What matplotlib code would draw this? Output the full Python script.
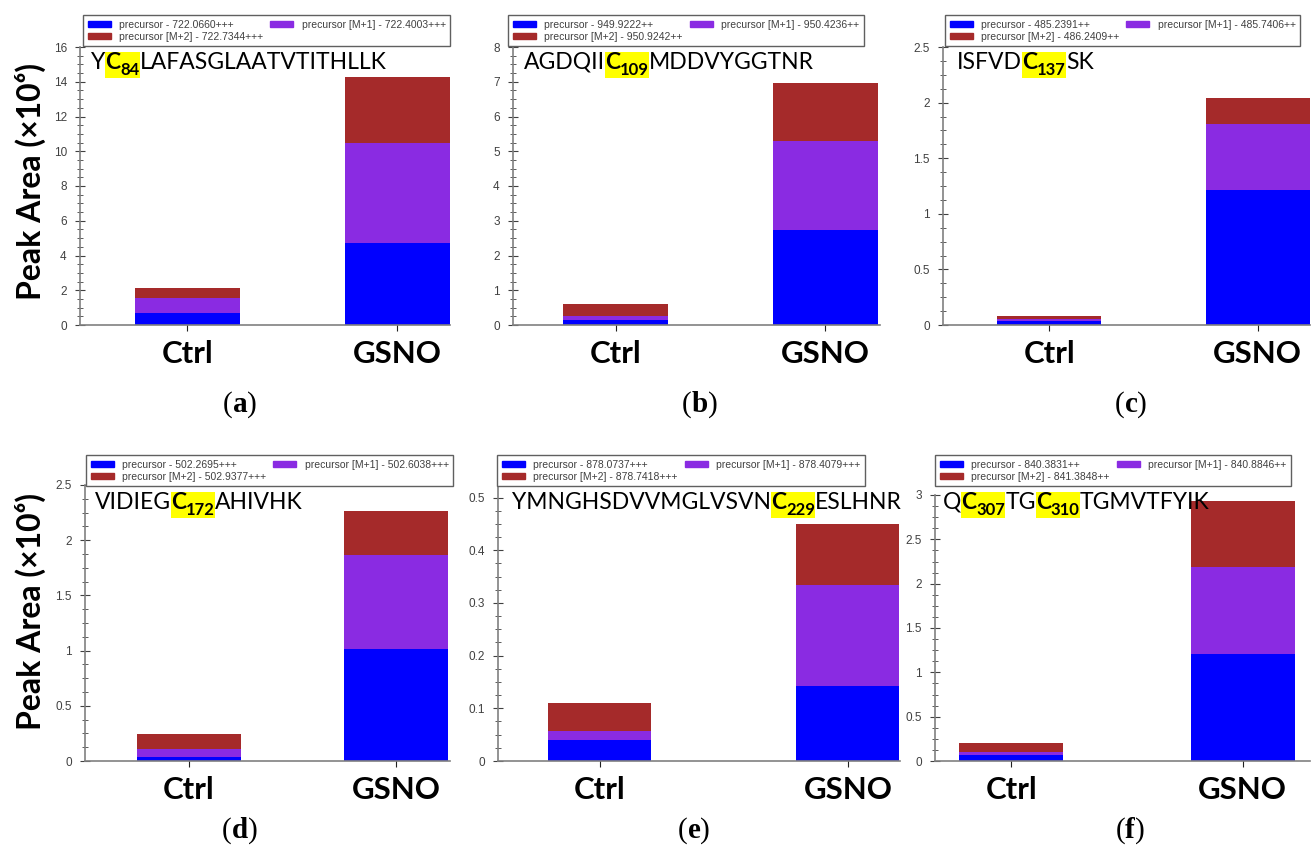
import matplotlib
matplotlib.use("Agg")
import matplotlib.pyplot as plt
from matplotlib.patches import Patch, Rectangle
from matplotlib.ticker import AutoMinorLocator, FuncFormatter, MultipleLocator

W, H = 1315, 852

categories = ["Ctrl", "GSNO"]

# stacked segment heights (x10^6): precursor, [M+1], [M+2]
prec_a = [0.70, 4.72]
m1_a = [0.87, 5.78]
m2_a = [0.58, 3.75]

prec_b = [0.135, 2.73]
m1_b = [0.135, 2.57]
m2_b = [0.33, 1.66]

prec_c = [0.040, 1.21]
m1_c = [0.014, 0.60]
m2_c = [0.023, 0.23]

prec_d = [0.040, 1.01]
m1_d = [0.066, 0.86]
m2_d = [0.139, 0.39]

prec_e = [0.040, 0.142]
m1_e = [0.016, 0.192]
m2_e = [0.054, 0.115]

prec_f = [0.068, 1.21]
m1_f = [0.032, 0.98]
m2_f = [0.100, 0.74]

legend_a = ["precursor - 722.0660+++", "precursor [M+1] - 722.4003+++", "precursor [M+2] - 722.7344+++"]
legend_b = ["precursor - 949.9222++", "precursor [M+1] - 950.4236++", "precursor [M+2] - 950.9242++"]
legend_c = ["precursor - 485.2391++", "precursor [M+1] - 485.7406++", "precursor [M+2] - 486.2409++"]
legend_d = ["precursor - 502.2695+++", "precursor [M+1] - 502.6038+++", "precursor [M+2] - 502.9377+++"]
legend_e = ["precursor - 878.0737+++", "precursor [M+1] - 878.4079+++", "precursor [M+2] - 878.7418+++"]
legend_f = ["precursor - 840.3831++", "precursor [M+1] - 840.8846++", "precursor [M+2] - 841.3848++"]

# peptide as (plain, cys, site) pieces
pep_a = [("Y", "C", "84"), ("LAFASGLAATVTITHLLK", None, None)]
pep_b = [("AGDQII", "C", "109"), ("MDDVYGGTNR", None, None)]
pep_c = [("ISFVD", "C", "137"), ("SK", None, None)]
pep_d = [("VIDIEG", "C", "172"), ("AHIVHK", None, None)]
pep_e = [("YMNGHSDVVMGLVSVN", "C", "229"), ("ESLHNR", None, None)]
pep_f = [("Q", "C", "307"), ("TG", "C", "310"), ("TGMVTFYIK", None, None)]

colors = ["#0000FF", "#8A2BE2", "#A52A2A"]
sans = ["Lato", "DejaVu Sans"]

fig = plt.figure(figsize=(W / 100, H / 100), dpi=100)
renderer = fig.canvas.get_renderer()


def px_axes(l, r, t, b):
    return fig.add_axes([l / W, 1 - b / H, (r - l) / W, (b - t) / H])


def runs_text(x, y, runs, center=False):
    # runs: (text, size, weight, family, dy, highlight)
    items = []
    cx = x
    for s, size, weight, fam, dy, hl in runs:
        t = fig.text(cx / W, 1 - (y + dy) / H, s, fontsize=size, fontweight=weight,
                     family=fam, va="baseline", ha="left", zorder=5)
        bb = t.get_window_extent(renderer)
        items.append((t, bb, dy, hl))
        cx += bb.width
    shift = -(cx - x) / 2 if center else 0
    for t, bb, dy, hl in items:
        px, py = t.get_position()
        t.set_position((px + shift / W, py))
    # highlight boxes
    i = 0
    while i < len(items):
        if items[i][3]:
            j = i
            while j + 1 < len(items) and items[j + 1][3]:
                j += 1
            x0 = items[i][1].x0 + shift
            x1 = items[j][1].x1 + shift
            y0 = min(it[1].y0 for it in items[i:j + 1])
            y1 = max(it[1].y1 for it in items[i:j + 1])
            fig.patches.append(Rectangle((x0 / W, y0 / H), (x1 - x0) / W, (y1 - y0) / H,
                                         transform=fig.transFigure, facecolor="#FFFF00",
                                         edgecolor="none", zorder=4))
            i = j + 1
        else:
            i += 1


def panel(box, xl, bw, ymax, ystep, prec, m1, m2, labels, leg_box, pep, pep_xy, tag, tag_xy):
    ax = px_axes(*box)
    x = range(len(categories))
    b1 = [p + q for p, q in zip(prec, m1)]
    ax.bar(x, prec, bw, color=colors[0], zorder=2)
    ax.bar(x, m1, bw, bottom=prec, color=colors[1], zorder=2)
    ax.bar(x, m2, bw, bottom=b1, color=colors[2], zorder=2)
    ax.set_xlim(*xl)
    ax.set_ylim(0, ymax)
    ax.set_xticks(list(x))
    ax.set_xticklabels(categories, fontsize=22.5, fontweight="bold", family=sans)
    ax.yaxis.set_major_locator(MultipleLocator(ystep))
    ax.yaxis.set_minor_locator(AutoMinorLocator(4))
    ax.yaxis.set_major_formatter(FuncFormatter(lambda v, p: "%g" % round(v, 3)))
    for s in ["top", "right"]:
        ax.spines[s].set_visible(False)
    for s in ["left", "bottom"]:
        ax.spines[s].set_color("#808080")
        ax.spines[s].set_linewidth(1.2)
    ax.tick_params(axis="y", which="major", direction="inout", length=7, color="#404040",
                   labelsize=8.5, labelcolor="#404040", pad=6)
    ax.tick_params(axis="y", which="minor", direction="inout", length=4, color="#404040")
    ax.tick_params(axis="x", direction="inout", length=8, color="#202020", pad=7)
    for lab in ax.get_yticklabels():
        lab.set_family("Liberation Sans")

    handles = [Patch(color=colors[0]), Patch(color=colors[2]), Patch(color=colors[1])]
    leg_labels = [labels[0], labels[2], labels[1]]
    lx0, ly1 = leg_box
    leg = ax.legend(handles, leg_labels, ncol=2, loc="upper left",
                    bbox_to_anchor=(lx0 / W, 1 - ly1 / H),
                    bbox_transform=fig.transFigure, borderaxespad=0,
                    prop={"family": "Liberation Sans", "size": 7.5},
                    fancybox=False, edgecolor="#606060", framealpha=1,
                    borderpad=0.45, labelspacing=0.2, handlelength=2.2,
                    handleheight=0.6, handletextpad=0.8, columnspacing=0.7)
    leg.get_frame().set_linewidth(1.0)
    for t in leg.get_texts():
        t.set_color("#404040")

    runs = []
    for plain, cys, site in pep:
        runs.append((plain, 16.5, "normal", sans, 0, False))
        if cys:
            runs.append((cys, 16.5, "bold", sans, 0, True))
            runs.append((site, 12, "bold", sans, 6, True))
    runs_text(pep_xy[0], pep_xy[1], runs)

    serif = ["Liberation Serif", "DejaVu Serif"]
    runs_text(tag_xy[0], tag_xy[1], [("(", 21, "normal", serif, 0, False),
                                      (tag, 21, "bold", serif, 0, False),
                                      (")", 21, "normal", serif, 0, False)], center=True)
    return ax


panel((80, 450, 47, 325), (-0.51, 1.25), 0.5, 16, 2, prec_a, m1_a, m2_a, legend_a,
      (83, 15), pep_a, (91, 69), "a", (240, 412))
panel((513, 880, 47, 325), (-0.49, 1.26), 0.5, 8, 1, prec_b, m1_b, m2_b, legend_b,
      (508, 15), pep_b, (524, 69), "b", (700, 412))
panel((943, 1310, 47, 325), (-0.51, 1.25), 0.5, 2.5, 0.5, prec_c, m1_c, m2_c, legend_c,
      (945, 15), pep_c, (957, 69), "c", (1131, 412))
panel((85, 450, 485, 761), (-0.5, 1.26), 0.5, 2.5, 0.5, prec_d, m1_d, m2_d, legend_d,
      (86, 455), pep_d, (95, 509), "d", (240, 838))
panel((498, 900, 487, 761), (-0.41, 1.21), 0.415, 0.52, 0.1, prec_e, m1_e, m2_e, legend_e,
      (497, 455), pep_e, (512, 509), "e", (694, 838))
panel((935, 1310, 495, 761), (-0.33, 1.29), 0.45, 3, 0.5, prec_f, m1_f, m2_f, legend_f,
      (935, 455), pep_f, (943, 509), "f", (1130, 838))

for yc in (182, 612):
    fig.text(30 / W, 1 - yc / H, "Peak Area (×10⁶)", rotation=90, va="center", ha="center",
             fontsize=23, fontweight="bold", family=sans)

fig.savefig("out.png", dpi=100)
